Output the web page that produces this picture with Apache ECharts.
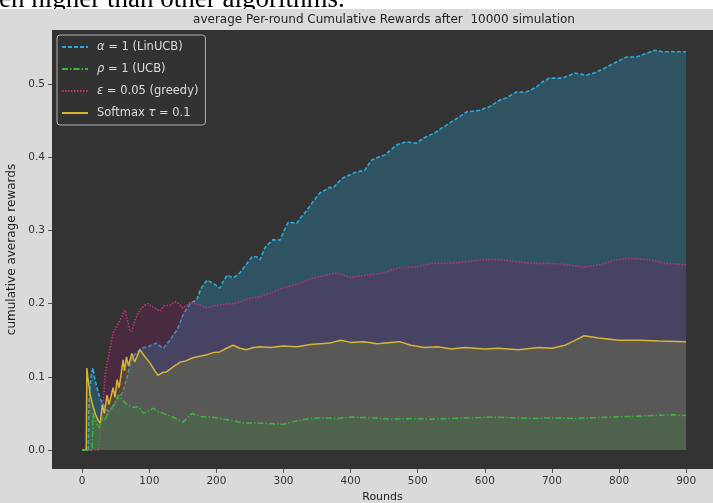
<!DOCTYPE html>
<html>
<head>
<meta charset="utf-8">
<script src="https://cdn.jsdelivr.net/npm/echarts@6/dist/echarts.min.js"></script>
<style>html,body{margin:0;padding:0;background:#dadada;}#c{width:713px;height:503px;}</style>
</head>
<body>
<div id="c"></div>
<script>
const titleText = 'average Per-round Cumulative Rewards after  10000 simulation';
const xTicks = [0, 100, 200, 300, 400, 500, 600, 700, 800, 900];
const yTicks = [0.0, 0.1, 0.2, 0.3, 0.4, 0.5];
const seriesNames = ['alpha', 'rho', 'eps', 'softmax'];

const linucb = [[0,0],[9,0],[10,0.06],[12,0.09],[14,0.105],[16,0.112],[18,0.1],[22,0.085],[26,0.072],[30,0.064],[35,0.057],[40,0.052],[45,0.058],[49,0.064],[55,0.072],[60,0.078],[64,0.09],[67,0.1],[71,0.115],[74,0.127],[80,0.132],[86,0.137],[92,0.14],[98,0.141],[105,0.144],[111,0.146],[116,0.142],[121,0.139],[126,0.145],[131,0.15],[136,0.157],[141,0.164],[146,0.174],[150,0.184],[155,0.192],[161,0.2],[166,0.203],[171,0.205],[176,0.219],[181,0.226],[186,0.232],[195,0.228],[205,0.221],[210,0.23],[216,0.239],[225,0.235],[235,0.242],[244,0.253],[253,0.264],[260,0.264],[265,0.26],[272,0.276],[278,0.282],[284,0.287],[295,0.287],[301,0.3],[307,0.311],[320,0.31],[326,0.318],[332,0.324],[343,0.338],[354,0.351],[362,0.355],[369,0.359],[374,0.358],[382,0.366],[389,0.372],[399,0.376],[409,0.38],[421,0.382],[431,0.396],[441,0.4],[451,0.403],[460,0.41],[469,0.417],[483,0.421],[498,0.419],[508,0.426],[525,0.433],[536,0.44],[548,0.447],[560,0.454],[573,0.462],[592,0.464],[607,0.469],[622,0.478],[632,0.481],[647,0.489],[662,0.489],[677,0.496],[686,0.503],[696,0.508],[716,0.508],[734,0.515],[751,0.512],[766,0.516],[781,0.523],[796,0.53],[811,0.537],[826,0.537],[841,0.542],[853,0.546],[865,0.544],[880,0.544],[900,0.544]];

const ucb = [[0,0],[15,0],[16,0.05],[19,0.04],[22,0.035],[26,0.03],[30,0.045],[34,0.04],[38,0.05],[42,0.055],[46,0.06],[50,0.068],[54,0.075],[60,0.068],[68,0.061],[75,0.058],[83,0.059],[88,0.055],[91,0.05],[98,0.053],[106,0.057],[114,0.052],[121,0.05],[126,0.048],[135,0.045],[142,0.042],[150,0.038],[157,0.044],[164,0.05],[172,0.047],[180,0.045],[190,0.045],[201,0.044],[210,0.042],[220,0.041],[230,0.039],[240,0.037],[260,0.037],[280,0.036],[300,0.035],[320,0.04],[340,0.043],[360,0.044],[380,0.043],[400,0.045],[430,0.044],[460,0.042],[490,0.043],[520,0.042],[550,0.043],[580,0.044],[610,0.045],[640,0.044],[670,0.043],[700,0.044],[730,0.043],[760,0.044],[790,0.045],[820,0.046],[850,0.047],[880,0.048],[900,0.047]];

const greedy = [[0,0],[25,0],[27,0.03],[31,0.06],[34,0.1],[37,0.119],[42,0.141],[46,0.16],[54,0.173],[58,0.18],[61,0.187],[64,0.191],[68,0.175],[71,0.164],[74,0.162],[78,0.175],[82,0.185],[86,0.191],[92,0.197],[98,0.2],[104,0.196],[110,0.193],[116,0.19],[122,0.197],[131,0.198],[138,0.202],[144,0.2],[150,0.194],[156,0.198],[161,0.202],[168,0.2],[176,0.198],[186,0.194],[195,0.197],[205,0.198],[216,0.2],[226,0.2],[235,0.202],[245,0.206],[255,0.208],[265,0.209],[280,0.214],[295,0.22],[310,0.224],[325,0.228],[344,0.235],[360,0.238],[379,0.242],[399,0.236],[424,0.239],[448,0.242],[473,0.249],[498,0.25],[522,0.255],[548,0.255],[573,0.257],[597,0.26],[622,0.26],[647,0.257],[671,0.255],[696,0.255],[722,0.253],[746,0.25],[771,0.253],[796,0.26],[815,0.262],[845,0.26],[870,0.255],[900,0.253]];

const softmax = [[0,0],[6,0],[7,0.112],[9,0.095],[12,0.075],[16,0.06],[20,0.048],[24,0.04],[27,0.037],[30,0.062],[33,0.05],[37,0.075],[40,0.062],[46,0.085],[49,0.072],[52,0.096],[55,0.085],[61,0.123],[63,0.108],[66,0.127],[69,0.115],[74,0.132],[78,0.12],[86,0.137],[93,0.128],[101,0.119],[107,0.11],[113,0.102],[120,0.106],[126,0.107],[136,0.114],[146,0.12],[155,0.122],[165,0.126],[175,0.128],[186,0.13],[195,0.133],[205,0.134],[215,0.139],[225,0.143],[235,0.139],[245,0.137],[255,0.14],[265,0.141],[280,0.14],[300,0.142],[320,0.141],[340,0.144],[369,0.146],[385,0.15],[400,0.147],[420,0.148],[440,0.145],[460,0.147],[473,0.148],[490,0.143],[510,0.14],[530,0.141],[550,0.138],[570,0.14],[600,0.138],[620,0.139],[650,0.137],[680,0.14],[700,0.139],[719,0.143],[735,0.15],[748,0.156],[770,0.153],[800,0.15],[830,0.15],[860,0.149],[900,0.148]];

const chart = echarts.init(document.getElementById('c'), null, {renderer: 'canvas'});

const labelMap = {
  alpha: '{i|α} = 1 (LinUCB)',
  rho: '{i|ρ} = 1 (UCB)',
  eps: '{i|ε} = 0.05 (greedy)',
  softmax: 'Softmax {i|τ} = 0.1'
};

function mk(name, data, color, dash, width, fill, fillOpacity, z) {
  return {
    name: name,
    type: 'line',
    data: data,
    showSymbol: false,
    symbol: 'none',
    animation: false,
    lineStyle: {color: color, width: width, type: dash},
    itemStyle: {color: color},
    areaStyle: {color: fill, opacity: fillOpacity},
    z: z
  };
}

const font = 'DejaVu Sans';
chart.setOption({
  backgroundColor: '#dadada',
  animation: false,
  title: {
    text: titleText, left: 384, top: 14, textAlign: 'center', padding: 0,
    textStyle: {fontFamily: font, fontSize: 12, fontWeight: 'normal', color: '#222'}
  },
  graphic: [
    {type: 'rect', shape: {x: 0, y: 0, width: 713, height: 9}, style: {fill: '#ffffff'}, z: 100},
    {type: 'text', x: -1, y: 13, z: 101, style: {text: 'en higher than other algorithms.', font: '27px "Liberation Serif"', fill: '#000', verticalAlign: 'bottom'}},
    {type: 'rect', shape: {x: 0, y: 9, width: 713, height: 4}, style: {fill: '#dadada'}, z: 102}
  ],
  grid: {left: 52, right: 0, top: 30, bottom: 34, outerBoundsMode: 'none', containLabel: false, show: true, backgroundColor: '#333333', borderColor: '#333333', borderWidth: 0},
  legend: {
    left: 57, top: 35, orient: 'vertical', padding: [5, 7, 5, 4],
    itemWidth: 26, itemHeight: 14, itemGap: 8,
    backgroundColor: 'rgba(51,51,51,0.85)', borderColor: '#b0b0b0', borderWidth: 1, borderRadius: 3,
    itemStyle: {opacity: 0},
    formatter: function (n) { return labelMap[n]; },
    textStyle: {fontFamily: font, fontSize: 11.5, color: '#dddddd', padding: [0, 0, 0, 4], lineHeight: 14,
      rich: {i: {fontFamily: font, fontSize: 11.5, fontStyle: 'italic', color: '#dddddd', lineHeight: 14}}},
    data: seriesNames
  },
  xAxis: {
    type: 'value', min: -45, max: 940,
    name: 'Rounds', nameLocation: 'middle', nameGap: 23,
    nameTextStyle: {fontFamily: font, fontSize: 11, color: '#222'},
    axisLine: {show: false, onZero: false},
    splitLine: {show: false},
    axisTick: {show: true, length: 4, lineStyle: {color: '#555'}, customValues: xTicks},
    axisLabel: {fontFamily: font, fontSize: 10.5, color: '#333', margin: 7, customValues: xTicks, formatter: v => String(v)}
  },
  yAxis: {
    type: 'value', min: -0.026, max: 0.5738,
    name: 'cumulative average rewards', nameLocation: 'middle', nameGap: 26, nameRotate: 90,
    nameTextStyle: {fontFamily: font, fontSize: 12, color: '#222'},
    axisLine: {show: false, onZero: false},
    splitLine: {show: false},
    axisTick: {show: true, length: 4, lineStyle: {color: '#555'}, customValues: yTicks},
    axisLabel: {fontFamily: font, fontSize: 10.5, color: '#333', margin: 7, customValues: yTicks, formatter: v => v.toFixed(1)}
  },
  series: [
    mk('alpha', linucb, '#2aa9dc', [4, 2], 1.6, '#2aa9dc', 0.28, 3),
    mk('rho', ucb, '#3cb43c', [6, 2, 1.5, 2], 1.5, '#308a2e', 0.22, 7),
    mk('eps', greedy, '#c0307a', [1.5, 1.5], 1.6, '#96106a', 0.22, 4),
    mk('softmax', softmax, '#d8b535', 'solid', 1.5, '#8e9432', 0.25, 5)
  ]
});
</script>
</body>
</html>
